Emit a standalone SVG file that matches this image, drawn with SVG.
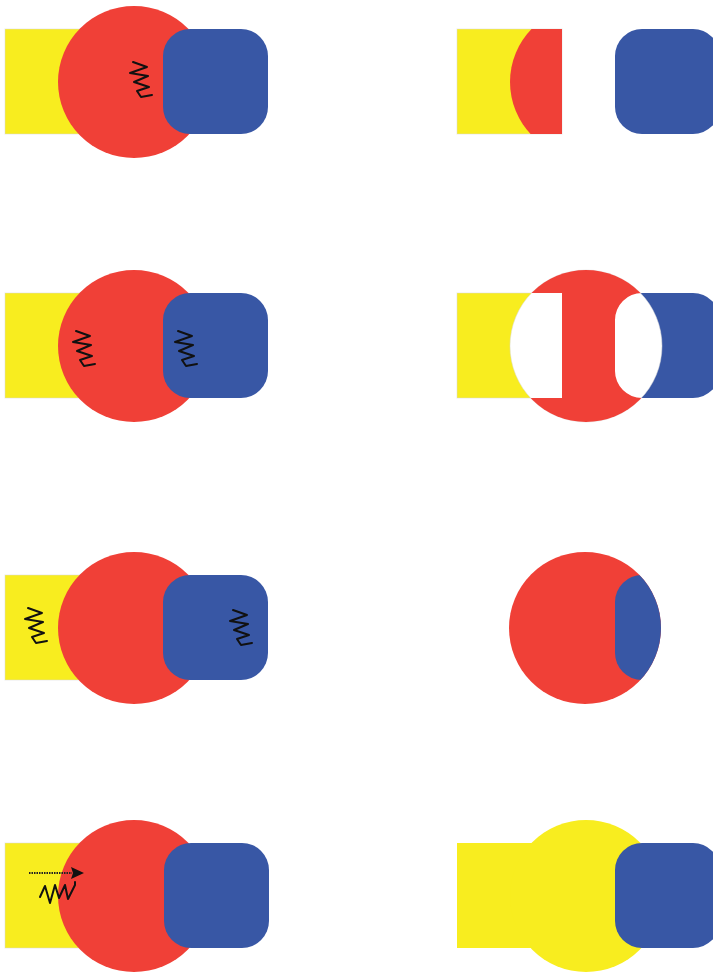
<svg xmlns="http://www.w3.org/2000/svg" width="713" height="973" viewBox="0 0 713 973">
<style>
.y{fill:#f8ed1f}.r{fill:#f04037}.b{fill:#3857a5}.w{fill:#fff}
.o{stroke:#d9d9d9;stroke-width:1;stroke-opacity:.5}
.z{fill:none;stroke:#111;stroke-width:2;stroke-linejoin:round;stroke-linecap:round}
.d{fill:none;stroke:#222;stroke-width:2.2;stroke-dasharray:1.5 1}
</style>
<defs>
<rect id="sq" x="0" y="0" width="105" height="105"/>
<rect id="rr" x="0" y="0" width="105" height="105" rx="27" ry="27"/>
<circle id="ci" cx="0" cy="0" r="76"/>
<polyline id="zz" class="z" points="0,0 14,5 -3,11 15,14 1,20 16,25 4,29 8,35 19,33"/>
<marker id="ah" markerWidth="13" markerHeight="12" refX="1" refY="6" orient="auto" markerUnits="userSpaceOnUse"><path d="M0,0 L13,6 L0,12 L2,6 Z" fill="#111"/></marker>
<clipPath id="c1"><rect x="457" y="29" width="105" height="105"/></clipPath>
<clipPath id="c2a"><circle cx="586" cy="346" r="76"/></clipPath>
<clipPath id="c3"><circle cx="585" cy="628" r="76"/></clipPath>
</defs>

<g id="panel-1-left">
<use href="#sq" x="5" y="29" class="y o"/><use href="#ci" x="134" y="82" class="r"/><use href="#rr" x="163" y="29" class="b"/>
</g>
<g id="panel-1-right">
<use href="#sq" x="457" y="29" class="y o"/>
<g clip-path="url(#c1)"><use href="#ci" x="586" y="82" class="r"/></g>
<use href="#rr" x="615" y="29" class="b"/>
</g>

<g id="panel-2-left">
<use href="#sq" x="5" y="293" class="y o"/><use href="#ci" x="134" y="346" class="r"/><use href="#rr" x="163" y="293" class="b"/>
</g>
<g id="panel-2-right">
<use href="#sq" x="457" y="293" class="y o"/><use href="#rr" x="615" y="293" class="b"/>
<use href="#ci" x="586" y="346" class="w o"/>
<path class="r" clip-path="url(#c2a)" fill-rule="evenodd" d="M500,260H680V440H500Z M510,293V398H562V293Z M642,293A27,27 0 0 0 615,320V371A27,27 0 0 0 642,398H680V293Z"/>
</g>

<g id="panel-3-left">
<use href="#sq" x="5" y="575" class="y o"/><use href="#ci" x="134" y="628" class="r"/><use href="#rr" x="163" y="575" class="b"/>
</g>
<g id="panel-3-right">
<use href="#ci" x="585" y="628" class="r"/>
<g clip-path="url(#c3)"><use href="#rr" x="615" y="575" class="b"/></g>
</g>

<g id="panel-4-left">
<use href="#sq" x="5" y="843" class="y o"/><use href="#ci" x="134" y="896" class="r"/><use href="#rr" x="164" y="843" class="b"/>
</g>
<g id="panel-4-right">
<use href="#sq" x="457" y="843" class="y"/><use href="#ci" x="586" y="896" class="y"/><use href="#rr" x="615" y="843" class="b"/>
</g>

<g id="connectors">
<use href="#zz" x="133" y="62"/>
<use href="#zz" x="76" y="331"/>
<use href="#zz" x="178" y="331"/>
<use href="#zz" x="28" y="608"/>
<use href="#zz" x="233" y="610"/>
<polyline class="z" points="40,897 45,886 50,903 55,885 59,898 65,885 68,899 75,885 75,882"/>
<line class="d" x1="29" y1="873" x2="72" y2="873" marker-end="url(#ah)"/>
</g>
</svg>
